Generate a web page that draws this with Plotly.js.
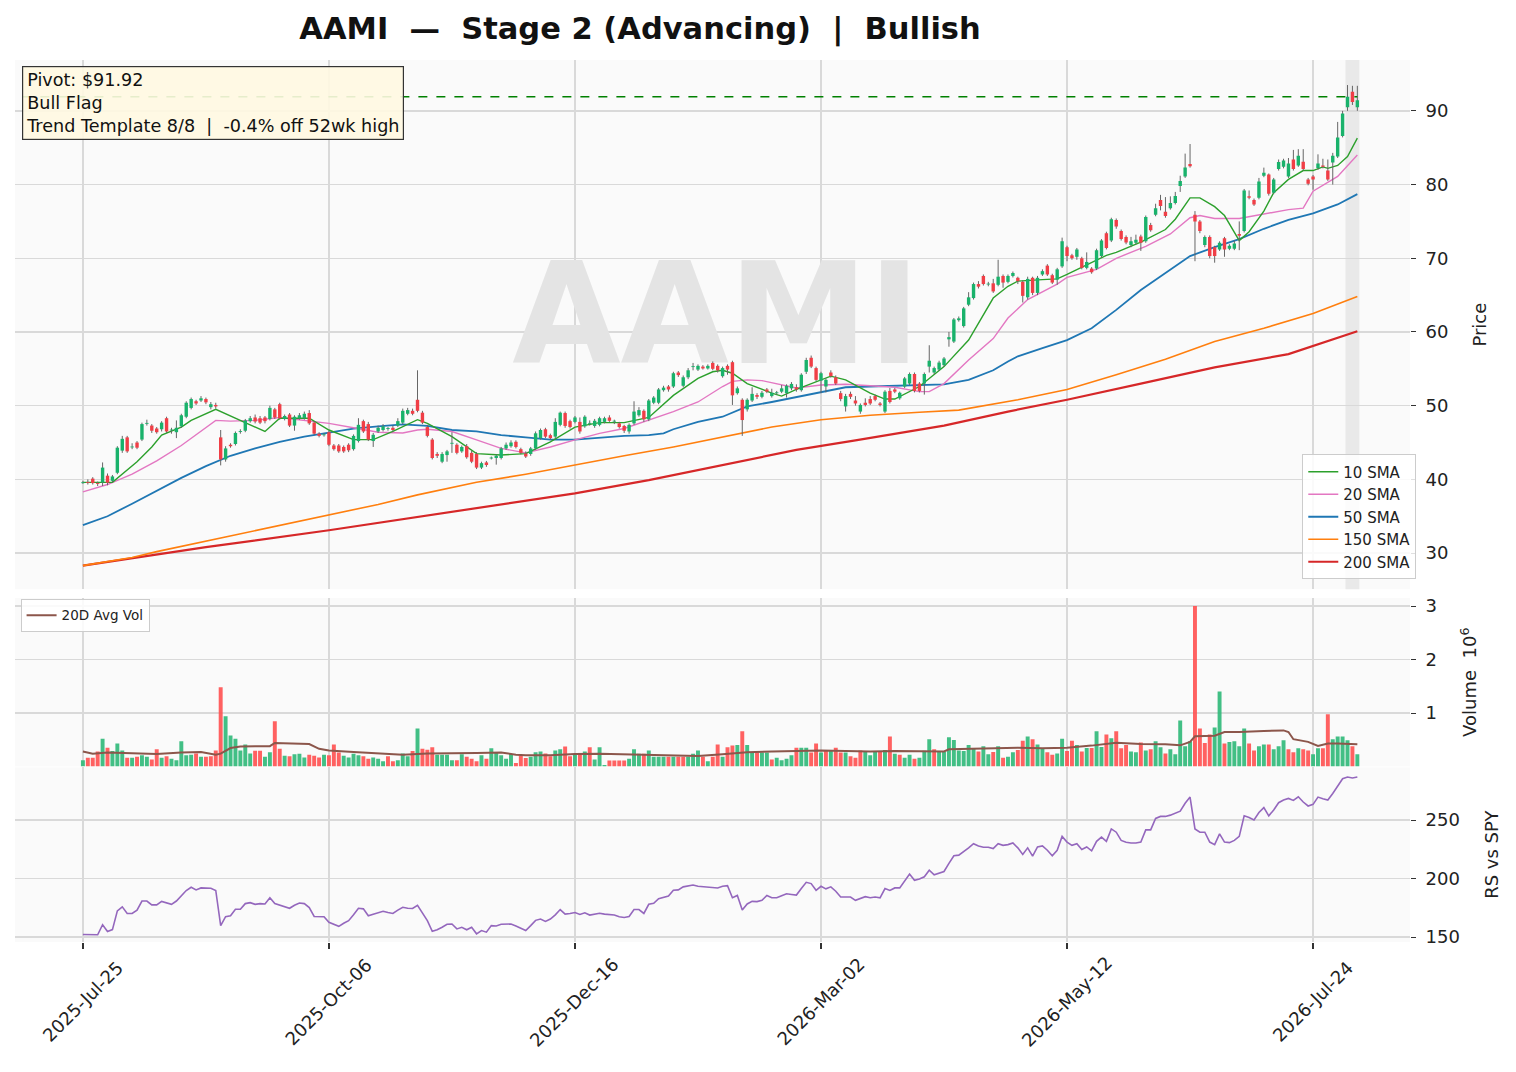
<!DOCTYPE html>
<html><head><meta charset="utf-8">
<script src="https://cdn.plot.ly/plotly-3.0.1.min.js"></script>
<style>html,body{margin:0;padding:0;background:#fff}#chart{width:1516px;height:1072px}</style>
</head><body><div id="chart"></div>
<script>
const ticker = "AAMI";
const tickIdx = [0,50,100,150,200,250];
const tickText = ["2025-Jul-25","2025-Oct-06","2025-Dec-16","2026-Mar-02","2026-May-12","2026-Jul-24"];
const pivot = 91.92;

const openP = [39.5,39.6,40.1,39.5,39.6,40.5,39.8,40.9,43.9,45.7,
44.4,45.0,45.4,47.6,47.3,46.9,46.8,48.3,46.7,46.4,
47.2,48.5,49.7,50.6,50.7,50.9,49.8,50.1,45.7,42.7,
44.7,44.8,46.5,46.6,47.9,48.4,48.3,48.4,48.2,49.5,
50.2,48.2,48.8,47.3,48.3,48.3,49.0,47.7,46.2,46.05,
46.4,44.6,44.6,44.4,44.7,44.1,45.2,47.9,47.5,45.2,
46.5,46.7,46.9,47.0,47.3,47.7,48.9,49.3,50.8,49.05,
47.1,45.4,43.45,42.4,43.3,44.9,44.7,43.8,44.5,43.6,
43.45,41.6,42.3,42.9,42.9,42.9,44.2,44.5,45.1,44.1,
43.5,43.45,44.2,45.6,46.8,46.0,45.8,47.4,49.0,47.9,
47.8,47.8,47.2,47.6,47.25,47.4,47.8,48.4,47.9,47.6,
47.25,46.5,47.6,48.7,49.3,48.15,50.4,50.4,52.1,52.6,
52.6,54.5,52.7,53.85,55.3,54.9,55.3,55.05,55.8,55.4,
54.0,55.4,55.9,51.7,50.8,49.5,50.7,51.45,51.2,52.2,
51.3,51.75,51.9,51.7,52.35,52.5,52.1,54.6,56.5,55.1,
53.4,52.6,54.5,53.85,51.7,49.9,51.6,50.7,49.2,50.4,
50.9,51.3,50.3,49.2,52.0,52.2,51.0,52.6,53.0,54.3,
53.0,53.0,55.3,54.5,54.9,55.5,59.0,58.7,61.6,60.8,
63.7,64.6,66.5,67.6,66.5,66.6,66.4,67.6,66.8,67.6,
67.35,66.8,64.7,67.35,65.3,67.8,69.0,67.7,67.1,68.9,
71.5,70.4,70.2,70.0,68.7,68.6,68.6,70.3,73.4,72.4,
75.2,73.7,72.9,71.8,72.1,72.95,72.3,74.5,75.9,77.9,
76.3,76.8,77.5,79.8,81.1,82.8,75.9,75.0,71.8,72.9,
71.5,71.2,72.7,71.3,71.3,73.3,73.7,78.4,77.9,78.2,
81.2,81.35,78.9,82.1,82.4,81.1,83.4,82.6,83.1,80.7,
81.1,82.25,82.6,81.9,83.0,83.8,86.6,90.5,92.6,90.5];

const closeP = [39.6,39.55,39.5,39.4,41.6,39.55,40.4,44.3,45.5,43.8,
44.4,44.3,47.5,47.6,46.6,46.4,47.7,46.5,46.7,47.0,
48.7,50.4,50.9,50.3,51.0,50.45,50.2,49.9,42.7,44.2,
44.5,46.3,46.5,48.0,48.3,47.85,47.7,47.9,49.7,48.4,
48.3,48.6,47.3,48.5,48.7,48.9,47.6,46.2,45.9,46.05,
44.7,44.1,43.8,43.8,43.95,45.9,47.4,46.5,45.4,46.05,
47.0,47.2,46.9,46.7,47.9,49.3,49.4,48.9,49.3,47.7,
45.9,42.9,43.2,43.45,43.8,44.9,43.6,44.4,43.0,42.4,
41.6,42.2,41.95,42.9,43.2,44.2,44.7,45.0,44.4,43.6,
43.1,44.2,46.25,46.7,45.8,45.6,47.8,49.05,47.25,47.1,
48.4,46.5,48.5,47.6,47.95,48.3,48.3,47.95,47.9,47.1,
46.6,47.4,49.2,49.4,48.15,50.7,51.1,52.2,52.45,52.2,
54.4,54.15,53.85,54.8,55.3,55.4,55.05,55.4,55.0,54.8,
55.1,54.9,51.4,52.35,48.05,50.8,51.6,51.2,51.75,51.9,
51.75,51.75,52.35,52.7,52.95,52.2,54.2,56.2,55.3,53.5,
54.4,53.5,54.0,53.0,50.9,51.3,51.2,50.3,50.1,50.1,
50.3,50.8,50.1,51.9,50.5,51.9,51.75,53.7,54.3,52.0,
52.0,54.3,56.1,55.1,55.85,56.4,59.3,61.7,61.85,63.2,
64.7,66.5,66.15,66.5,66.5,65.5,67.5,66.7,67.6,68.0,
66.9,64.9,67.2,65.3,67.35,68.25,67.8,66.7,68.5,72.3,
70.3,70.0,71.2,68.7,69.5,68.1,71.1,72.4,71.4,75.3,
74.3,72.6,72.15,72.3,72.5,72.1,75.6,73.8,76.8,77.1,
75.75,77.5,78.45,80.5,82.3,82.5,75.0,73.7,72.9,70.3,
70.3,72.1,71.2,71.7,72.0,73.05,79.2,78.2,77.3,80.4,
81.6,78.75,80.7,83.05,83.25,82.85,82.1,83.9,82.1,80.1,
80.7,82.85,82.4,80.7,83.9,86.4,89.65,91.9,91.2,91.45];

const highP = [39.8,40.0,40.3,39.7,42.3,40.8,40.6,44.5,45.9,45.9,
44.9,45.2,47.7,48.1,47.5,47.1,47.9,48.5,47.0,48.0,
48.9,50.6,51.1,50.8,51.3,51.1,50.5,50.4,46.7,44.5,
44.9,46.5,46.8,48.2,48.6,48.8,48.6,48.6,50.0,49.7,
50.4,48.8,49.0,48.7,49.0,49.2,49.4,47.9,46.4,46.3,
46.6,44.8,44.8,44.6,44.9,46.1,48.3,48.1,47.8,46.3,
47.3,47.5,47.1,47.3,48.3,49.6,49.7,49.6,54.8,49.3,
47.4,45.6,43.7,43.7,44.0,46.4,44.9,44.6,44.8,43.9,
43.7,42.4,42.5,43.1,43.4,44.4,45.0,45.3,45.3,44.3,
43.8,44.4,46.5,46.9,47.0,46.2,48.3,49.2,49.2,48.1,
48.6,48.4,48.7,48.0,48.2,48.5,48.5,48.7,48.1,47.8,
47.4,47.6,50.6,49.8,49.5,50.9,51.3,52.4,52.7,52.8,
54.6,54.7,54.1,55.1,55.8,55.6,55.5,55.6,56.0,55.6,
55.3,55.6,56.1,52.6,51.0,51.0,52.5,51.7,52.0,52.4,
52.3,52.0,52.8,52.9,53.2,52.9,54.4,56.5,56.8,55.3,
54.6,53.7,54.8,54.1,52.0,51.6,51.9,51.3,50.3,51.0,
51.3,51.5,50.5,52.1,52.4,52.4,51.9,53.9,54.5,54.5,
53.2,54.5,58.2,55.3,56.1,56.6,60.0,61.9,62.1,63.4,
65.4,66.7,66.9,67.8,66.8,67.2,69.8,67.8,67.8,68.2,
67.5,67.0,67.5,67.5,67.6,68.5,69.2,67.9,68.7,72.8,
71.7,70.6,71.4,70.2,70.8,68.8,71.3,72.6,73.6,75.5,
75.4,73.9,73.1,72.9,73.2,73.2,75.8,74.8,77.4,78.6,
78.3,78.4,79.0,81.2,84.2,85.5,76.4,75.2,73.1,73.1,
71.7,72.3,72.9,71.9,72.4,75.0,79.4,79.2,78.1,80.9,
82.3,81.5,80.9,83.4,83.5,83.6,84.7,84.8,84.8,80.9,
81.3,84.1,83.5,83.4,84.3,88.5,90.0,93.5,93.4,93.4];

const lowP = [39.4,39.3,39.3,39.1,39.1,39.2,39.6,40.7,43.6,43.6,
44.1,44.1,45.2,47.3,46.3,46.2,46.5,46.3,46.2,45.6,
47.0,48.3,49.5,50.1,50.5,50.2,49.5,49.6,41.9,42.4,
44.3,44.6,46.2,46.4,47.7,47.6,47.5,47.6,48.0,48.2,
48.1,48.0,47.1,46.6,48.1,48.1,47.4,46.0,45.7,45.8,
44.5,43.9,43.6,43.6,43.7,43.9,45.0,46.3,45.2,44.4,
46.3,46.5,46.6,46.5,47.1,47.5,48.7,48.7,49.1,47.5,
45.7,42.7,42.9,42.2,42.4,43.6,43.4,43.6,42.8,42.2,
41.4,41.4,41.7,42.7,42.0,42.7,44.0,44.3,44.2,43.4,
42.9,43.2,44.0,45.4,45.6,45.4,45.6,47.2,47.0,46.9,
47.6,46.2,47.0,47.3,47.0,47.2,47.6,47.8,47.5,46.9,
46.3,46.2,47.4,48.5,47.8,47.9,50.2,50.2,51.9,51.9,
52.4,53.9,52.5,53.6,54.8,54.7,54.9,54.9,54.8,54.5,
53.8,54.2,50.1,51.5,45.9,49.2,50.5,50.9,51.0,51.7,
51.1,51.5,51.7,51.1,52.1,51.9,51.9,54.3,55.1,53.3,
51.7,51.8,53.8,52.8,50.6,49.2,50.9,50.0,48.9,49.9,
50.1,50.6,49.9,49.0,50.3,51.7,50.8,52.4,52.8,51.8,
51.8,51.5,54.5,54.3,54.7,55.3,58.0,58.5,61.4,60.6,
63.5,64.4,65.9,66.3,66.2,65.3,66.2,66.0,66.6,67.4,
66.5,64.0,64.4,65.0,65.0,67.6,67.6,66.5,66.4,68.7,
69.6,69.8,69.8,68.5,68.5,67.9,68.4,70.1,71.2,72.2,
74.0,72.4,71.9,71.5,71.9,71.0,72.1,73.6,75.7,76.5,
75.5,76.6,77.3,79.0,80.9,82.3,69.6,73.4,71.5,70.0,
69.4,71.0,70.2,71.1,71.1,71.1,73.5,78.0,77.1,78.0,
81.0,78.5,78.7,81.9,82.2,80.9,81.9,82.4,81.9,79.9,
79.3,82.0,82.2,80.5,80.0,83.6,86.4,90.0,90.8,90.0];

// volume in millions
const volumeM = [0.115,0.165,0.165,0.28,0.52,0.35,0.29,0.43,0.30,0.165,
0.165,0.18,0.21,0.18,0.13,0.32,0.165,0.19,0.145,0.115,
0.47,0.21,0.22,0.245,0.18,0.18,0.19,0.30,1.48,0.94,
0.58,0.52,0.30,0.41,0.245,0.295,0.295,0.18,0.265,0.845,
0.33,0.20,0.19,0.23,0.24,0.17,0.22,0.20,0.17,0.22,
0.21,0.41,0.26,0.20,0.17,0.24,0.21,0.19,0.145,0.17,
0.145,0.10,0.19,0.10,0.115,0.245,0.19,0.29,0.71,0.33,
0.315,0.36,0.22,0.22,0.22,0.115,0.115,0.23,0.18,0.145,
0.10,0.21,0.145,0.34,0.265,0.21,0.145,0.235,0.065,0.195,
0.16,0.18,0.265,0.28,0.245,0.19,0.30,0.32,0.375,0.19,
0.22,0.235,0.28,0.36,0.13,0.36,0.03,0.11,0.11,0.11,
0.11,0.145,0.32,0.24,0.24,0.30,0.18,0.18,0.18,0.18,
0.18,0.18,0.18,0.18,0.24,0.30,0.18,0.10,0.18,0.41,
0.18,0.36,0.39,0.40,0.66,0.40,0.27,0.26,0.26,0.26,
0.13,0.165,0.115,0.145,0.21,0.35,0.35,0.35,0.26,0.43,
0.26,0.31,0.30,0.35,0.26,0.26,0.19,0.165,0.30,0.27,
0.21,0.27,0.28,0.31,0.56,0.24,0.22,0.165,0.22,0.145,
0.165,0.295,0.51,0.32,0.27,0.27,0.545,0.495,0.30,0.29,
0.40,0.345,0.28,0.38,0.23,0.27,0.38,0.165,0.18,0.265,
0.31,0.48,0.56,0.51,0.41,0.345,0.265,0.22,0.245,0.52,
0.29,0.48,0.40,0.28,0.345,0.345,0.66,0.365,0.60,0.53,
0.66,0.34,0.40,0.28,0.265,0.45,0.30,0.32,0.47,0.36,
0.245,0.32,0.23,0.86,0.38,0.47,3.0,0.71,0.44,0.60,
0.73,1.40,0.43,0.46,0.47,0.38,0.71,0.43,0.30,0.38,
0.41,0.41,0.32,0.38,0.49,0.32,0.265,0.34,0.32,0.30,
0.23,0.34,0.34,0.975,0.51,0.56,0.56,0.49,0.38,0.23];

const avgVolIdx = [0,2,5,10,15,20,24,27,28,30,32,35,38,39,42,46,48,50,55,60,65,68,70,80,85,88,90,95,100,105,110,115,120,125,130,135,140,145,150,155,160,165,170,175,176,180,185,190,195,200,205,210,215,220,223,225,226,230,232,235,240,244,245,246,249,250,251,253,255,259];
const avgVolM = [0.28,0.24,0.26,0.25,0.235,0.26,0.27,0.22,0.24,0.345,0.375,0.38,0.38,0.44,0.43,0.42,0.33,0.30,0.27,0.245,0.22,0.235,0.245,0.25,0.26,0.22,0.21,0.21,0.235,0.24,0.23,0.22,0.20,0.195,0.23,0.265,0.28,0.29,0.30,0.29,0.28,0.29,0.28,0.28,0.32,0.33,0.33,0.35,0.34,0.35,0.39,0.445,0.42,0.415,0.395,0.46,0.565,0.575,0.645,0.645,0.665,0.675,0.645,0.51,0.46,0.415,0.385,0.43,0.43,0.415];

const rsSpy = [152.2,152.1,152.0,152.0,160.6,154.8,156.4,172.4,175.8,170.2,
170.2,173.0,180.8,180.8,177.5,177.5,180.5,179.4,178.0,180.8,
185.0,189.8,192.6,190.3,192.0,192.0,191.7,189.8,159.8,167.4,
168.2,173.8,173.8,178.6,179.4,178.0,178.6,178.3,183.6,178.6,
177.2,176.0,174.6,177.2,179.1,178.6,175.2,167.6,167.6,167.4,
162.6,160.6,159.2,161.8,164.0,169.0,174.6,174.1,168.2,169.6,
171.0,172.1,171.0,170.2,173.0,175.5,174.6,174.4,177.2,171.0,
164.0,155.0,156.2,158.4,160.9,161.2,157.0,158.4,156.2,158.4,
152.8,155.6,154.2,159.8,159.5,160.9,161.2,161.2,159.5,157.8,
155.6,159.8,164.3,165.4,163.4,165.4,169.0,173.5,169.6,170.2,
171.0,169.3,170.7,168.8,169.6,170.4,169.6,169.0,168.8,167.4,
166.8,167.6,173.5,173.5,170.2,178.0,178.9,182.8,184.2,185.0,
190.0,190.3,192.9,194.0,194.5,193.4,192.9,192.6,192.3,192.0,
193.4,194.0,183.6,185.6,173.2,178.3,180.5,180.3,181.4,185.6,
183.6,183.6,185.3,187.0,186.4,185.9,191.5,196.8,195.7,190.0,
193.4,191.2,192.9,189.2,184.2,184.2,184.2,181.4,183.1,184.5,
183.6,184.2,183.6,191.5,189.8,192.0,192.0,198.2,203.8,198.5,
199.6,201.5,207.1,203.2,204.6,206.0,213.0,219.5,220.0,222.8,
226.2,229.8,227.9,226.8,226.8,225.6,229.8,228.4,229.0,230.4,
226.2,220.6,226.2,219.2,227.0,227.9,224.2,219.5,224.2,236.0,
231.2,228.4,229.8,224.8,227.0,223.7,231.8,235.4,231.8,242.4,
239.6,232.6,231.0,230.4,230.4,231.2,241.6,241.6,251.4,253.1,
253.1,254.2,255.6,257.6,264.3,269.6,242.4,239.6,239.6,231.2,
229.0,238.2,231.2,230.7,232.6,236.0,253.6,252.2,250.0,256.4,
260.6,253.6,258.6,264.8,267.1,268.5,266.8,269.9,265.4,262.0,
263.4,269.6,268.2,267.1,272.7,278.9,285.3,286.7,285.9,286.7];

const sma10Idx = [0,6,11,14,16,18,20,22,27,37,40,46,50,55,59,63,68,70,75,80,85,90,95,100,105,110,115,120,125,128,130,132,135,140,142,145,150,152,155,160,163,165,170,175,180,185,188,190,195,198,200,205,208,210,215,220,222,225,227,230,232,235,237,240,242,245,248,250,252,253,255,257,259];
const sma10 = [39.6,39.6,42.4,44.4,46.0,46.5,47.1,48.0,49.5,46.5,48.3,48.3,46.7,45.4,45.4,46.5,48.1,47.6,45.8,43.5,43.3,43.5,45.1,47.1,47.7,47.7,48.4,51.4,53.7,54.6,54.8,54.4,53.0,51.7,51.3,52.2,53.5,54.0,53.5,51.7,50.9,50.9,52.6,55.3,58.9,64.6,66.2,66.9,67.1,67.2,67.8,69.4,70.4,70.8,72.2,73.9,75.3,78.2,78.2,77.0,75.8,72.4,73.6,76.4,78.9,80.7,81.9,81.9,82.4,82.2,82.6,83.8,86.3];
const sma20Idx = [0,5,10,15,20,27,30,35,40,45,50,55,60,65,68,70,75,80,85,90,95,100,105,110,115,120,125,130,132,135,138,140,145,150,155,160,165,170,172,175,180,185,188,192,198,200,206,210,216,221,225,227,230,235,240,245,248,250,255,259];
const sma20 = [38.3,39.3,40.7,42.5,44.6,48.0,47.9,48.0,48.4,48.0,47.6,47.0,46.4,46.3,46.7,46.8,46.5,45.35,44.2,43.6,44.4,45.35,46.25,46.9,48.0,49.2,50.5,52.6,53.3,53.5,53.4,53.1,52.4,52.8,52.9,52.7,52.5,51.9,51.9,53.0,56.2,59.1,61.9,64.4,66.5,67.4,68.5,70.0,71.6,73.3,75.5,75.8,75.4,75.4,76.0,76.6,76.8,79.1,81.1,84.0];
const sma50Idx = [0,5,10,15,20,25,30,35,40,45,50,55,60,65,70,75,80,85,90,95,100,105,110,115,118,120,125,130,135,140,145,150,155,160,165,170,175,180,185,188,190,195,200,205,210,215,220,225,230,235,240,245,250,255,259];
const sma50 = [33.8,35.0,36.7,38.5,40.2,41.8,43.2,44.2,45.1,45.8,46.3,46.9,47.2,47.45,47.25,46.7,46.5,46.0,45.7,45.4,45.4,45.7,45.9,46.0,46.25,46.8,47.8,48.5,49.9,50.5,51.2,51.9,52.5,52.6,52.7,52.8,52.9,53.5,54.8,56.0,56.7,57.8,58.9,60.5,63.0,65.7,68.0,70.3,71.5,72.6,74.0,75.2,76.1,77.3,78.7];
const sma150Idx = [0,10,15,20,30,40,50,60,68,80,90,100,110,120,130,140,150,160,170,178,190,200,210,220,230,240,250,259];
const sma150 = [28.3,29.4,30.2,30.9,32.3,33.7,35.1,36.6,37.9,39.6,40.7,42.0,43.2,44.4,45.8,47.1,48.1,48.7,49.1,49.4,50.8,52.2,54.2,56.3,58.7,60.5,62.5,64.8];
const sma200Idx = [0,25,50,75,100,115,130,145,157,175,188,200,215,230,245,259];
const sma200 = [28.3,30.8,33.1,35.6,38.1,39.9,42.0,44.0,45.3,47.3,49.2,50.8,53.0,55.2,57.0,60.1];

const FONT = "DejaVu Sans, Verdana, sans-serif";
const NB = "\u00a0";
const UP = "#19b26b", DOWN = "#f03e46";
const N = closeP.length;
const idx = Array.from({length: N}, (_, i) => i);

const wx = [], wy = [];
for (let i = 0; i < N; i++) { wx.push(i, i, null); wy.push(lowP[i], highP[i], null); }
const ux = [], uy = [], dx = [], dy = [];
for (let i = 0; i < N; i++) {
  let lo = Math.min(openP[i], closeP[i]), hi = Math.max(openP[i], closeP[i]);
  if (hi - lo < 0.12) { const m = (hi + lo) / 2; lo = m - 0.06; hi = m + 0.06; }
  if (closeP[i] >= openP[i]) { ux.push(i, i, null); uy.push(lo, hi, null); }
  else { dx.push(i, i, null); dy.push(lo, hi, null); }
}
const volColors = volumeM.map((v, i) => (i === 0 || closeP[i] >= closeP[i-1]) ? "rgba(46,184,120,0.9)" : "rgba(255,80,80,0.9)");

const xr = [-13.8, 269.7];
const traces = [
  {x:[128.7], y:[60.5], mode:"text", text:[ticker], textfont:{family:FONT, size:140, weight:"bold", color:"#e4e4e4"}, hoverinfo:"skip", showlegend:false, xaxis:"x", yaxis:"y"},
  {x:sma200Idx, y:sma200, mode:"lines", name:"200 SMA", line:{color:"#d62728", width:2.2}, xaxis:"x", yaxis:"y", legend:"legend", legendrank:5},
  {x:sma150Idx, y:sma150, mode:"lines", name:"150 SMA", line:{color:"#ff7f0e", width:1.6}, xaxis:"x", yaxis:"y", legend:"legend", legendrank:4},
  {x:sma50Idx, y:sma50, mode:"lines", name:"50 SMA", line:{color:"#1f77b4", width:1.8}, xaxis:"x", yaxis:"y", legend:"legend", legendrank:3},
  {x:sma20Idx, y:sma20, mode:"lines", name:"20 SMA", line:{color:"#e377c2", width:1.4}, xaxis:"x", yaxis:"y", legend:"legend", legendrank:2},
  {x:sma10Idx, y:sma10, mode:"lines", name:"10 SMA", line:{color:"#2ca02c", width:1.4}, xaxis:"x", yaxis:"y", legend:"legend", legendrank:1},
  {x:wx, y:wy, mode:"lines", line:{color:"#666666", width:1}, hoverinfo:"skip", showlegend:false, xaxis:"x", yaxis:"y"},
  {x:ux, y:uy, mode:"lines", line:{color:UP, width:3.4}, hoverinfo:"skip", showlegend:false, xaxis:"x", yaxis:"y"},
  {x:dx, y:dy, mode:"lines", line:{color:DOWN, width:3.4}, hoverinfo:"skip", showlegend:false, xaxis:"x", yaxis:"y"},
  {type:"bar", x:idx, y:volumeM, marker:{color:volColors, line:{width:0}}, width:0.8, showlegend:false, xaxis:"x", yaxis:"y2"},
  {x:avgVolIdx, y:avgVolM, mode:"lines", name:"20D Avg Vol", line:{color:"#8c564b", width:2}, xaxis:"x", yaxis:"y2", legend:"legend2"},
  {x:idx, y:rsSpy, mode:"lines", line:{color:"#9467bd", width:1.6}, showlegend:false, xaxis:"x", yaxis:"y3"}
];

const grid = "#d9d9d9";
const TF = {family:FONT, size:18, color:"#222"};
const yCommon = {side:"right", anchor:"x", showgrid:true, gridcolor:grid, gridwidth:1.5, zeroline:false, ticks:"outside", ticklen:5, tickcolor:"#333", tickfont:TF, ticklabelstandoff:6, showline:false};

const annotations = tickIdx.map((t, k) => ({
  xref:"x", yref:"paper", x:t, y:-0.068, xanchor:"center", yanchor:"middle", textangle:-45, showarrow:false,
  text:tickText[k], font:TF
}));
annotations.push({xref:"paper", yref:"paper", x:0.005, y:0.993, xanchor:"left", yanchor:"top", align:"left", showarrow:false,
  text:"Pivot: $" + pivot.toFixed(2) + "<br>Bull Flag<br>Trend Template 8/8" + NB + NB + "|" + NB + NB + "-0.4% off 52wk high",
  font:{family:FONT, size:17.6, color:"#111"}, bgcolor:"rgba(255,248,225,0.9)", bordercolor:"#333333", borderwidth:1.2, borderpad:3});

const layout = {
  width:1516, height:1072,
  margin:{l:15, r:106, t:60, b:130},
  paper_bgcolor:"#ffffff", plot_bgcolor:"#fafafa",
  font:{family:FONT, color:"#222"},
  barmode:"overlay",
  title:{text:"<b>" + ticker + NB + NB + "—" + NB + NB + "Stage 2 (Advancing)" + NB + NB + "|" + NB + NB + "Bullish</b>", x:0.4222, xref:"container", xanchor:"center", y:0.974, yref:"container", yanchor:"middle", font:{family:FONT, size:30.5, color:"#111"}},
  xaxis:{domain:[0,1], anchor:"y3", range:xr, tickvals:tickIdx, showticklabels:false, showgrid:true, gridcolor:grid, gridwidth:1.5, zeroline:false, ticks:"outside", ticklen:6, tickwidth:1.5, tickcolor:"#333", showline:false},
  yaxis:Object.assign({}, yCommon, {domain:[0.40,1], range:[25.1,96.9], dtick:10, title:{text:"Price", standoff:25, font:{family:FONT, size:18}}}),
  yaxis2:Object.assign({}, yCommon, {domain:[0.199,0.390], range:[0,3.15], tickvals:[1,2,3], title:{text:"Volume" + NB + NB + "10<sup>6</sup>", standoff:27, font:{family:FONT, size:18}}}),
  yaxis3:Object.assign({}, yCommon, {domain:[0,0.198], range:[145.8,295], tickvals:[150,200,250], title:{text:"RS vs SPY", standoff:26, font:{family:FONT, size:18}}}),
  legend:{x:1.0045, xanchor:"right", y:0.411, yanchor:"bottom", bgcolor:"rgba(255,255,255,0.85)", bordercolor:"#cccccc", borderwidth:1, font:{family:FONT, size:15}, tracegroupgap:0, itemwidth:30, traceorder:"normal"},
  legend2:{x:0.004, xanchor:"left", y:0.389, yanchor:"top", bgcolor:"rgba(255,255,255,0.85)", bordercolor:"#cccccc", borderwidth:1, font:{family:FONT, size:13.5}, itemwidth:30},
  shapes:[
    {type:"rect", xref:"x", yref:"y domain", x0:N-3.4, x1:N-0.6, y0:0, y1:1, fillcolor:"rgba(200,200,200,0.35)", line:{width:0}, layer:"below"},
    {type:"line", xref:"x", yref:"y", x0:xr[0]+1.5, x1:N-1, y0:pivot, y1:pivot, line:{color:"#008000", width:1.5, dash:"dash"}}
  ],
  annotations:annotations
};
Plotly.newPlot("chart", traces, layout, {displayModeBar:false, staticPlot:true});
</script></body></html>
